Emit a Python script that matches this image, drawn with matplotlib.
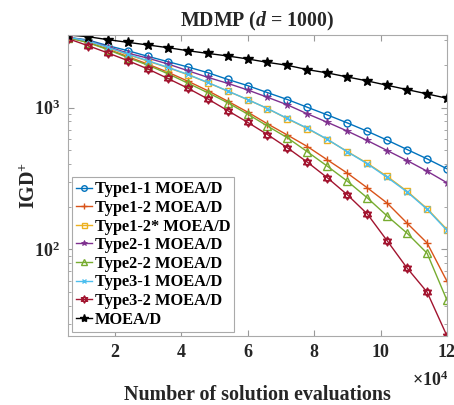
import numpy as np
import matplotlib.pyplot as plt
from matplotlib.path import Path

plt.rcParams.update({
    'font.family': 'Liberation Serif',
    'font.weight': 'bold',
    'mathtext.fontset': 'custom',
    'mathtext.rm': 'Liberation Serif:bold',
    'mathtext.it': 'Liberation Serif:italic:bold',
    'mathtext.bf': 'Liberation Serif:bold',
})

evals = [6000, 12000, 18000, 24000, 30000, 36000, 42000, 48000, 54000, 60000,
         66000, 72000, 78000, 84000, 90000, 96000, 102000, 108000, 114000, 120000]

type1_1 = [3127, 2998, 2733, 2519, 2298, 2109, 1935, 1764, 1581, 1429,
           1275, 1139, 1005, 888, 780, 681, 589, 506, 435, 370]
type1_2 = [3112, 2893, 2582, 2287, 2025, 1778, 1537, 1317, 1111, 930,
           768, 640, 531, 428, 345, 272, 212, 153, 111, 59.5]
type1_2s = [3137, 2940, 2646, 2362, 2126, 1913, 1708, 1500, 1307, 1139,
            984, 833, 711, 595, 490, 405, 327, 257, 194, 138]
type2_1 = [3126, 2963, 2689, 2420, 2232, 2031, 1822, 1635, 1483, 1332,
           1182, 1045, 903, 788, 683, 586, 498, 423, 356, 295]
type2_2 = [3112, 2869, 2562, 2250, 1992, 1735, 1488, 1275, 1084, 900,
           741, 612, 488, 386, 303, 231, 172, 130, 94, 43.7]
type3_1 = [3140, 2950, 2660, 2380, 2140, 1925, 1715, 1505, 1310, 1140,
           985, 838, 715, 598, 488, 402, 322, 254, 192, 136]
type3_2 = [3062, 2733, 2428, 2143, 1873, 1606, 1372, 1152, 953, 788,
           645, 520, 412, 320, 243, 178, 115, 73.8, 50, 24.5]
moead = [3250, 3162, 3013, 2884, 2764, 2646, 2519, 2411, 2312, 2203,
         2084, 1986, 1852, 1756, 1644, 1542, 1436, 1339, 1249, 1163]

names = ['Type1-1 MOEA/D', 'Type1-2 MOEA/D', 'Type1-2* MOEA/D', 'Type2-1 MOEA/D',
         'Type2-2 MOEA/D', 'Type3-1 MOEA/D', 'Type3-2 MOEA/D', 'MOEA/D']

# hexagram marker (two overlapping triangles)
up = np.pi / 2 + np.arange(3) * 2 * np.pi / 3
dn = -np.pi / 2 + np.arange(3) * 2 * np.pi / 3
verts = [(np.cos(a), np.sin(a)) for a in up] + [(0, 0)] + \
        [(np.cos(a), np.sin(a)) for a in dn] + [(0, 0)]
codes = [Path.MOVETO, Path.LINETO, Path.LINETO, Path.CLOSEPOLY] * 2
hexagram = Path(verts, codes)

fig = plt.figure(figsize=(4.54, 4.05), dpi=100)
ax = fig.add_axes([0.1498, 0.1704, 0.8348, 0.7432])

ax.plot(evals, type1_1, '-o', color='#0072BD', lw=1.0, ms=5, mfc='none', mew=1.0)
ax.plot(evals, type1_2, '-+', color='#D95319', lw=1.0, ms=6, mew=1.0)
ax.plot(evals, type1_2s, '-s', color='#EDB120', lw=1.0, ms=4.5, mfc='none', mew=1.0)
ax.plot(evals, type2_1, '-*', color='#7E2F8E', lw=1.0, ms=5.5, mew=0.6)
ax.plot(evals, type2_2, '-^', color='#77AC30', lw=1.0, ms=5.5, mfc='none', mew=1.0)
ax.plot(evals, type3_1, '-x', color='#4DBEEE', lw=1.0, ms=4, mew=1.0)
ax.plot(evals, type3_2, '-', marker=hexagram, color='#A2142F', lw=1.0, ms=6.5, mfc='none', mew=1.0)
ax.plot(evals, moead, '-*', color='black', lw=1.0, ms=7.5)

ax.set_yscale('log')
ax.set_xlim(evals[0], evals[-1])
ax.set_ylim(min(type3_2), max(moead))

ax.set_xticks([20000, 40000, 60000, 80000, 100000, 120000])
ax.set_xticklabels(['2', '4', '6', '8', '10', '12'])
ax.set_yticks([100, 1000])
ax.set_yticklabels([r'$10^{2}$', r'$10^{3}$'])

ax.tick_params(which='both', direction='in', top=True, right=True, color='#999999',
               labelcolor='#262626', labelsize=13)
ax.tick_params(which='major', length=4, pad=6)
ax.tick_params(which='minor', length=2.5)
for s in ax.spines.values():
    s.set_color('#aaaaaa')
    s.set_linewidth(0.8)

ax.text(1.005, -0.115, r'$\times10^{4}$', transform=ax.transAxes, ha='right', va='top',
        fontsize=13, color='#262626')
ax.set_title(r'MDMP ($d$ = 1000)', fontsize=14.3, fontweight='bold', color='#262626', pad=6)
ax.set_xlabel('Number of solution evaluations', fontsize=14.4, fontweight='bold',
              color='#262626', labelpad=17)
ax.set_ylabel(r'IGD$^{+}$', fontsize=14.4, fontweight='bold', color='#262626', labelpad=-4.5)

leg = ax.legend(names, loc='lower left', bbox_to_anchor=(0.01, 0.014), borderaxespad=0,
                fontsize=11.8, handlelength=1.0, handletextpad=0.15, labelspacing=0.16,
                borderpad=0.25, fancybox=False, framealpha=1, markerscale=0.8)
leg.get_frame().set_edgecolor('#aaaaaa')
leg.get_frame().set_linewidth(0.8)

fig.savefig('out.png', dpi=100)
